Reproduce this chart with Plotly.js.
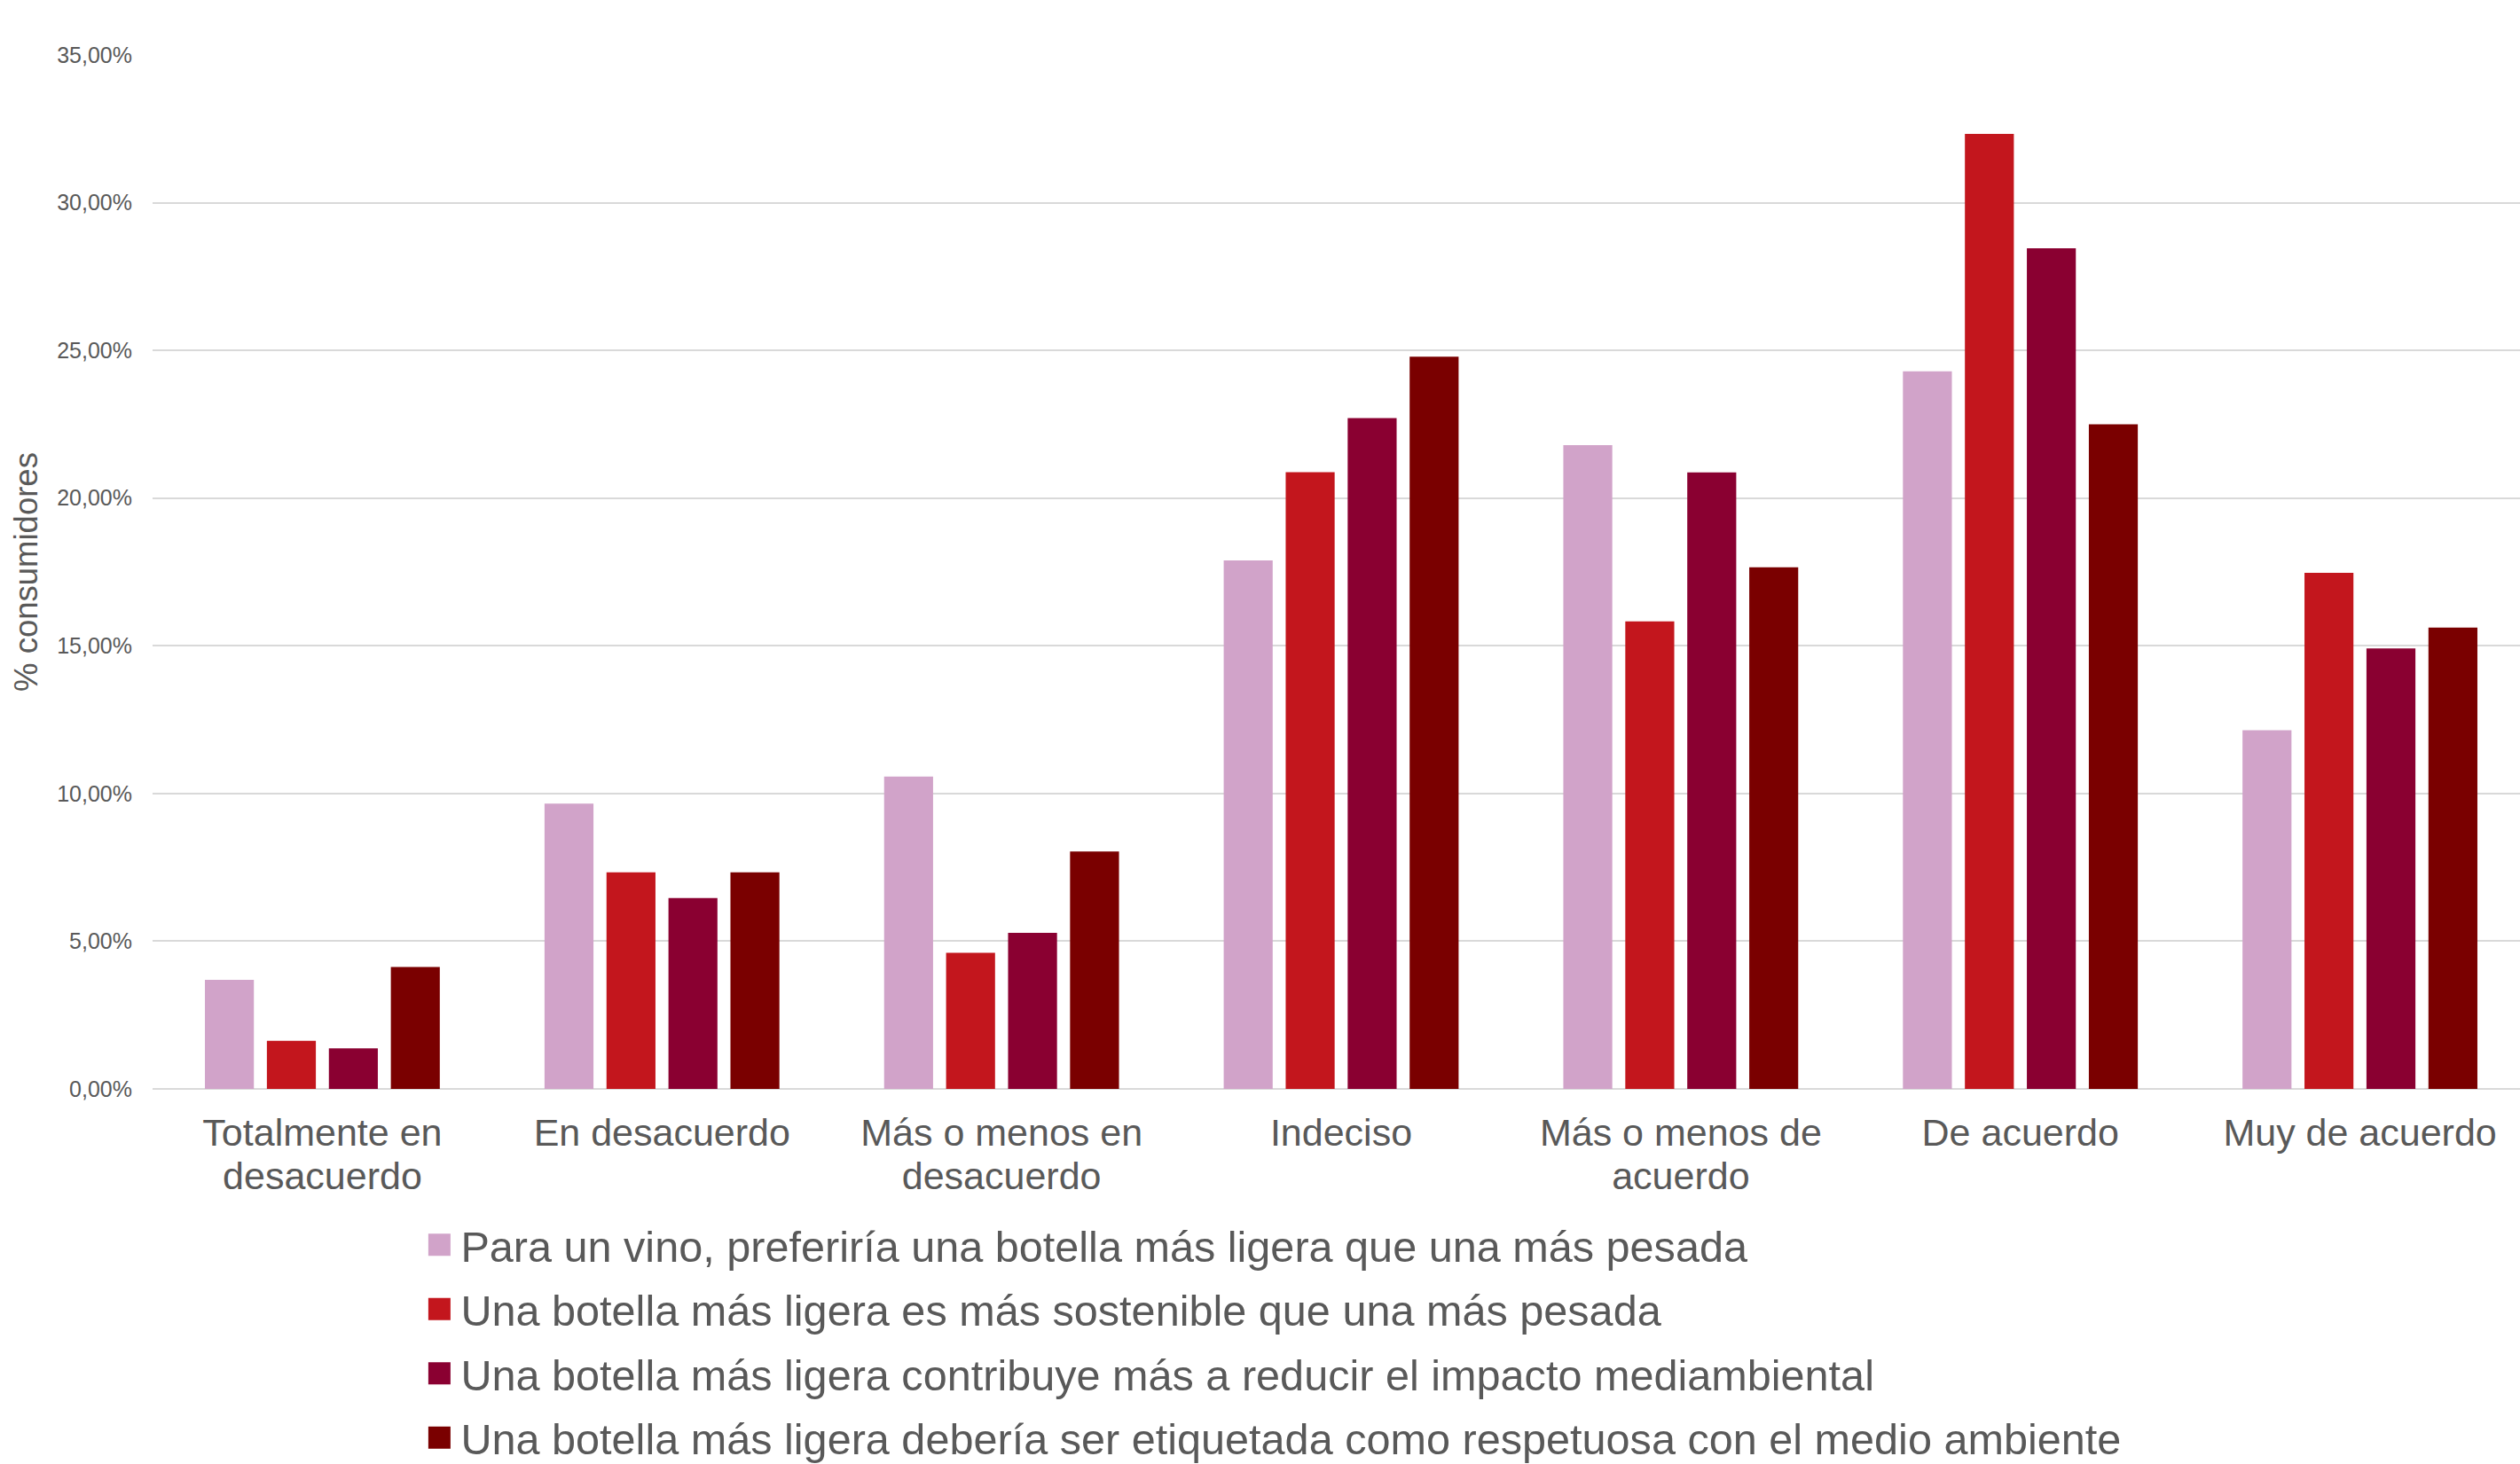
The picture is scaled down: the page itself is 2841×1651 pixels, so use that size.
<!DOCTYPE html>
<html>
<head>
<meta charset="utf-8">
<script src="https://cdn.plot.ly/plotly-3.0.1.min.js"></script>
<style>
html,body{margin:0;padding:0;background:#fff;overflow:hidden;}
#chart{width:2852px;height:1651px;}
</style>
</head>
<body>
<div id="chart"></div>
<script>
const categories = [
  "Totalmente en<br>desacuerdo",
  "En desacuerdo",
  "Más o menos en<br>desacuerdo",
  "Indeciso",
  "Más o menos de<br>acuerdo",
  "De acuerdo",
  "Muy de acuerdo"
];
const seriesNames = [
  "Para un vino, preferiría una botella más ligera que una más pesada",
  "Una botella más ligera es más sostenible que una más pesada",
  "Una botella más ligera contribuye más a reducir el impacto mediambiental",
  "Una botella más ligera debería ser etiquetada como respetuosa con el medio ambiente"
];
const preferiria   = [3.69, 9.66, 10.57, 17.89, 21.79, 24.29, 12.14];
const sostenible   = [1.63, 7.33, 4.61, 20.88, 15.83, 32.33, 17.47];
const reducir      = [1.37, 6.46, 5.28, 22.71, 20.87, 28.46, 14.91];
const etiquetada   = [4.13, 7.33, 8.04, 24.79, 17.66, 22.50, 15.62];
const colors = ["#D1A3C9", "#C3161D", "#8A0031", "#7A0000"];
const yTicks = [0, 5, 10, 15, 20, 25, 30, 35];
const yTickText = yTicks.map(v => v.toFixed(2).replace(".", ",") + "%");

const seriesValues = [preferiria, sostenible, reducir, etiquetada];
const FONT = "Liberation Sans, Arial, sans-serif";

const traces = seriesValues.map((vals, i) => ({
  type: "bar",
  name: seriesNames[i],
  x: categories,
  y: vals,
  marker: {color: colors[i], line: {width: 0}},
  legendgroup: "g" + i,
  hoverinfo: "skip"
}));

const layout = {
  width: 2852,
  height: 1651,
  paper_bgcolor: "#ffffff",
  plot_bgcolor: "#ffffff",
  margin: {l: 172, r: 0, t: 62, b: 423, autoexpand: false},
  barmode: "group",
  bargap: 0.27,
  bargroupgap: 0.21,
  font: {family: FONT, color: "#595959"},
  xaxis: {
    type: "category",
    tickfont: {size: 43, color: "#595959", family: FONT},
    showgrid: false,
    showline: false,
    zeroline: false,
    ticks: "",
    ticklabelstandoff: 20,
    automargin: false
  },
  yaxis: {
    range: [0, 35],
    tickmode: "array",
    tickvals: yTicks,
    ticktext: yTickText,
    tickfont: {size: 25, color: "#595959", family: FONT},
    showgrid: true,
    gridcolor: "#D9D9D9",
    gridwidth: 2,
    zeroline: true,
    zerolinecolor: "#D9D9D9",
    zerolinewidth: 2,
    showline: false,
    ticks: "",
    ticklabelstandoff: 22,
    automargin: false,
    title: {text: "% consumidores", font: {size: 36.5, color: "#595959", family: FONT}, standoff: 10}
  },
  showlegend: true,
  legend: {
    orientation: "v",
    x: 0.1132,
    xanchor: "left",
    y: -0.1181,
    yanchor: "top",
    traceorder: "grouped",
    tracegroupgap: 6.3,
    font: {size: 48.6, color: "#595959", family: FONT},
    bgcolor: "rgba(0,0,0,0)",
    itemwidth: 30
  }
};

function tweak(){
  document.querySelectorAll(".legendpoints path").forEach(function(p){
    p.setAttribute("d", "M12.5,12.5H-12.5V-12.5H12.5Z");
  });
  document.querySelectorAll(".legendtext").forEach(function(t){
    t.setAttribute("x", "44");
    t.querySelectorAll("tspan").forEach(function(s){ if (s.getAttribute("x")) s.setAttribute("x", "44"); });
  });
  document.querySelectorAll(".xtick text").forEach(function(t){
    const lines = t.querySelectorAll("tspan.line");
    lines.forEach(function(s, k){ if (k > 0) s.setAttribute("dy", "1.14em"); });
  });
}

Plotly.newPlot("chart", traces, layout, {staticPlot: true, displayModeBar: false}).then(tweak);
</script>
</body>
</html>
